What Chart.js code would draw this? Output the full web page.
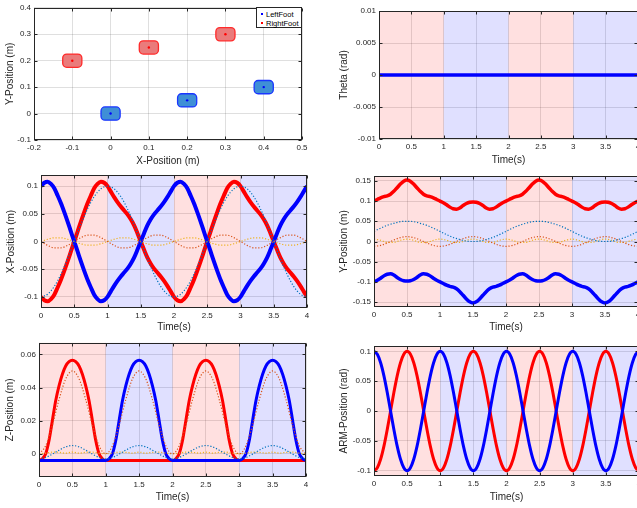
<!DOCTYPE html>
<html>
<head>
<meta charset="utf-8">
<script src="https://cdn.jsdelivr.net/npm/chart.js@4.4.1/dist/chart.umd.min.js"></script>
<style>
  html, body { margin: 0; padding: 0; background: #fff; overflow: hidden; }
  #page { position: relative; width: 637px; height: 508px; overflow: hidden; }
  canvas { position: absolute; }
  #legend { position: absolute; left: 256px; top: 7px; width: 44px; height: 19px; border: 1px solid #262626;
            background: #fff; font-family: 'Liberation Sans', Arial, sans-serif; font-size: 7.5px; color: #000; }
  #legend .row { position: absolute; left: 0; height: 9px; line-height: 9px; white-space: nowrap; }
  #legend .dot { position: absolute; left: 4px; top: 3px; width: 2px; height: 2px; }
  #legend .txt { position: absolute; left: 9px; top: 0; }
</style>
</head>
<body>
<div id="page">
  <canvas id="cFeet"  width="312" height="170" style="left:0px;top:0px"></canvas>
  <canvas id="cTheta" width="332" height="169" style="left:320px;top:0px"></canvas>
  <canvas id="cX"     width="320" height="173" style="left:0px;top:165px"></canvas>
  <canvas id="cY"     width="332" height="172" style="left:320px;top:165px"></canvas>
  <canvas id="cZ"     width="320" height="172" style="left:0px;top:335px"></canvas>
  <canvas id="cArm"   width="332" height="171" style="left:320px;top:335px"></canvas>
  <div id="legend"></div>
</div>
<script>
// ---- data ----
// footstep centres
const leftStepX  = [0, 0.2, 0.4];
const leftStepY  = [0, 0.05, 0.1];
const rightStepX = [-0.1, 0.1, 0.3];
const rightStepY = [0.2, 0.25, 0.3];
const footNames  = ['LeftFoot', 'RightFoot'];

// support phases (shaded bands)
const phaseStart = [0, 1, 2, 3];
const phaseEnd   = [1, 2, 3, 4];
const phaseFoot  = ['Right', 'Left', 'Right', 'Left'];

// time bases
const tFine = [0,0.05,0.1,0.15,0.2,0.25,0.3,0.35,0.4,0.45,0.5,0.55,0.6,0.65,0.7,0.75,0.8,0.85,0.9,0.95,
  1,1.05,1.1,1.15,1.2,1.25,1.3,1.35,1.4,1.45,1.5,1.55,1.6,1.65,1.7,1.75,1.8,1.85,1.9,1.95,
  2,2.05,2.1,2.15,2.2,2.25,2.3,2.35,2.4,2.45,2.5,2.55,2.6,2.65,2.7,2.75,2.8,2.85,2.9,2.95,
  3,3.05,3.1,3.15,3.2,3.25,3.3,3.35,3.4,3.45,3.5,3.55,3.6,3.65,3.7,3.75,3.8,3.85,3.9,3.95,4];
const tCoarse = [0,0.1,0.2,0.3,0.4,0.5,0.6,0.7,0.8,0.9,1,1.1,1.2,1.3,1.4,1.5,1.6,1.7,1.8,1.9,
  2,2.1,2.2,2.3,2.4,2.5,2.6,2.7,2.8,2.9,3,3.1,3.2,3.3,3.4,3.5,3.6,3.7,3.8,3.9,4];

// theta
const thetaBody = [0,0,0,0,0,0,0,0,0,0,0,0,0,0,0,0,0,0,0,0,0,0,0,0,0,0,0,0,0,0,0,0,0,0,0,0,0,0,0,0,0];

// X position
const leftX = [0.100,0.106,0.108,0.104,0.096,0.083,0.069,0.053,0.036,0.018,0.000,-0.018,-0.036,-0.053,-0.069,-0.083,-0.096,-0.104,-0.108,-0.106,-0.100,
  -0.090,-0.080,-0.071,-0.063,-0.056,-0.049,-0.040,-0.029,-0.015,0.000,0.015,0.029,0.040,0.049,0.056,0.063,0.071,0.080,0.090,0.100,
  0.106,0.108,0.104,0.096,0.083,0.069,0.053,0.036,0.018,0.000,-0.018,-0.036,-0.053,-0.069,-0.083,-0.096,-0.104,-0.108,-0.106,-0.100,
  -0.090,-0.080,-0.071,-0.063,-0.056,-0.049,-0.040,-0.029,-0.015,0.000,0.015,0.029,0.040,0.049,0.056,0.063,0.071,0.080,0.090,0.100];
const rightX = [-0.100,-0.106,-0.108,-0.104,-0.096,-0.083,-0.069,-0.053,-0.036,-0.018,0.000,0.018,0.036,0.053,0.069,0.083,0.096,0.104,0.108,0.106,0.100,
  0.090,0.080,0.071,0.063,0.056,0.049,0.040,0.029,0.015,0.000,-0.015,-0.029,-0.040,-0.049,-0.056,-0.063,-0.071,-0.080,-0.090,-0.100,
  -0.106,-0.108,-0.104,-0.096,-0.083,-0.069,-0.053,-0.036,-0.018,0.000,0.018,0.036,0.053,0.069,0.083,0.096,0.104,0.108,0.106,0.100,
  0.090,0.080,0.071,0.063,0.056,0.049,0.040,0.029,0.015,0.000,-0.015,-0.029,-0.040,-0.049,-0.056,-0.063,-0.071,-0.080,-0.090,-0.100];
const refXBlue = [-0.100,-0.095,-0.081,-0.059,-0.031,0.000,0.031,0.059,0.081,0.095,0.100,0.095,0.081,0.059,0.031,0.000,-0.031,-0.059,-0.081,-0.095,
  -0.100,-0.095,-0.081,-0.059,-0.031,0.000,0.031,0.059,0.081,0.095,0.100,0.095,0.081,0.059,0.031,0.000,-0.031,-0.059,-0.081,-0.095,-0.100];
const refXOrange = [0,-0.007,-0.0114,-0.0114,-0.007,0,0.007,0.0114,0.0114,0.007,0,-0.007,-0.0114,-0.0114,-0.007,0,0.007,0.0114,0.0114,0.007,
  0,-0.007,-0.0114,-0.0114,-0.007,0,0.007,0.0114,0.0114,0.007,0,-0.007,-0.0114,-0.0114,-0.007,0,0.007,0.0114,0.0114,0.007,0];
const refXYellow = [0,0.0041,0.0067,0.0067,0.0041,0,-0.0041,-0.0067,-0.0067,-0.0041,0,0.0041,0.0067,0.0067,0.0041,0,-0.0041,-0.0067,-0.0067,-0.0041,
  0,0.0041,0.0067,0.0067,0.0041,0,-0.0041,-0.0067,-0.0067,-0.0041,0,0.0041,0.0067,0.0067,0.0041,0,-0.0041,-0.0067,-0.0067,-0.0041,0];

// Y position
const rightY = [0.100,0.104,0.108,0.111,0.113,0.117,0.124,0.133,0.142,0.149,0.152,0.149,0.142,0.133,0.124,0.117,0.113,0.111,0.108,0.104,0.100,
  0.096,0.091,0.085,0.081,0.080,0.083,0.089,0.094,0.097,0.098,0.097,0.094,0.089,0.083,0.080,0.081,0.085,0.091,0.096,0.100,
  0.104,0.108,0.111,0.113,0.117,0.124,0.133,0.142,0.149,0.152,0.149,0.142,0.133,0.124,0.117,0.113,0.111,0.108,0.104,0.100,
  0.096,0.091,0.085,0.081,0.080,0.083,0.089,0.094,0.097,0.098,0.097,0.094,0.089,0.083,0.080,0.081,0.085,0.091,0.096,0.100];
const leftY = [-0.100,-0.096,-0.091,-0.085,-0.081,-0.080,-0.083,-0.089,-0.094,-0.097,-0.098,-0.097,-0.094,-0.089,-0.083,-0.080,-0.081,-0.085,-0.091,-0.096,-0.100,
  -0.104,-0.108,-0.111,-0.113,-0.117,-0.124,-0.133,-0.142,-0.149,-0.152,-0.149,-0.142,-0.133,-0.124,-0.117,-0.113,-0.111,-0.108,-0.104,-0.100,
  -0.096,-0.091,-0.085,-0.081,-0.080,-0.083,-0.089,-0.094,-0.097,-0.098,-0.097,-0.094,-0.089,-0.083,-0.080,-0.081,-0.085,-0.091,-0.096,-0.100,
  -0.104,-0.108,-0.111,-0.113,-0.117,-0.124,-0.133,-0.142,-0.149,-0.152,-0.149,-0.142,-0.133,-0.124,-0.117,-0.113,-0.111,-0.108,-0.104,-0.100];
const refYBlue = [0.025,0.033,0.040,0.045,0.049,0.050,0.049,0.045,0.040,0.033,0.025,0.017,0.010,0.005,0.001,0.000,0.001,0.005,0.010,0.017,
  0.025,0.033,0.040,0.045,0.049,0.050,0.049,0.045,0.040,0.033,0.025,0.017,0.010,0.005,0.001,0.000,0.001,0.005,0.010,0.017,0.025];
const refYOrange = [-0.012,-0.0097,-0.0037,0.0037,0.0097,0.012,0.0097,0.0037,-0.0037,-0.0097,-0.012,-0.0097,-0.0037,0.0037,0.0097,0.012,0.0097,0.0037,-0.0037,-0.0097,
  -0.012,-0.0097,-0.0037,0.0037,0.0097,0.012,0.0097,0.0037,-0.0037,-0.0097,-0.012,-0.0097,-0.0037,0.0037,0.0097,0.012,0.0097,0.0037,-0.0037,-0.0097,-0.012];
const refYYellow = [0.006,0.003,-0.002,-0.002,0.003,0.006,0.003,-0.002,-0.002,0.003,0.006,0.003,-0.002,-0.002,0.003,0.006,0.003,-0.002,-0.002,0.003,
  0.006,0.003,-0.002,-0.002,0.003,0.006,0.003,-0.002,-0.002,0.003,0.006,0.003,-0.002,-0.002,0.003,0.006,0.003,-0.002,-0.002,0.003,0.006];

// Z position
const rightZ = [-0.004,-0.003,0.000,0.008,0.020,0.032,0.041,0.048,0.053,0.0556,0.0565,0.0556,0.053,0.048,0.041,0.032,0.020,0.008,0.000,-0.003,-0.004,
  -0.004,-0.004,-0.004,-0.004,-0.004,-0.004,-0.004,-0.004,-0.004,-0.004,-0.004,-0.004,-0.004,-0.004,-0.004,-0.004,-0.004,-0.004,-0.004,-0.004,
  -0.003,0.000,0.008,0.020,0.032,0.041,0.048,0.053,0.0556,0.0565,0.0556,0.053,0.048,0.041,0.032,0.020,0.008,0.000,-0.003,-0.004,
  -0.004,-0.004,-0.004,-0.004,-0.004,-0.004,-0.004,-0.004,-0.004,-0.004,-0.004,-0.004,-0.004,-0.004,-0.004,-0.004,-0.004,-0.004,-0.004,-0.004];
const leftZ = [-0.004,-0.004,-0.004,-0.004,-0.004,-0.004,-0.004,-0.004,-0.004,-0.004,-0.004,-0.004,-0.004,-0.004,-0.004,-0.004,-0.004,-0.004,-0.004,-0.004,-0.004,
  -0.003,0.000,0.008,0.020,0.032,0.041,0.048,0.053,0.0556,0.0565,0.0556,0.053,0.048,0.041,0.032,0.020,0.008,0.000,-0.003,-0.004,
  -0.004,-0.004,-0.004,-0.004,-0.004,-0.004,-0.004,-0.004,-0.004,-0.004,-0.004,-0.004,-0.004,-0.004,-0.004,-0.004,-0.004,-0.004,-0.004,-0.004,
  -0.003,0.000,0.008,0.020,0.032,0.041,0.048,0.053,0.0556,0.0565,0.0556,0.053,0.048,0.041,0.032,0.020,0.008,0.000,-0.003,-0.004];
const refZOrange = [0,0.0048,0.0173,0.0327,0.0452,0.050,0.0452,0.0327,0.0173,0.0048,0,0.0048,0.0173,0.0327,0.0452,0.050,0.0452,0.0327,0.0173,0.0048,
  0,0.0048,0.0173,0.0327,0.0452,0.050,0.0452,0.0327,0.0173,0.0048,0,0.0048,0.0173,0.0327,0.0452,0.050,0.0452,0.0327,0.0173,0.0048,0];
const refZBlue = [-0.003,-0.0022,-0.0002,0.0022,0.0042,0.005,0.0042,0.0022,-0.0002,-0.0022,-0.003,-0.0022,-0.0002,0.0022,0.0042,0.005,0.0042,0.0022,-0.0002,-0.0022,
  -0.003,-0.0022,-0.0002,0.0022,0.0042,0.005,0.0042,0.0022,-0.0002,-0.0022,-0.003,-0.0022,-0.0002,0.0022,0.0042,0.005,0.0042,0.0022,-0.0002,-0.0022,-0.003];
const refZYellow = [0,0.0004,0.001,0.0009,0.0004,0.001,0.0004,0.0009,0.001,0.0004,0,0.0004,0.001,0.0009,0.0004,0.001,0.0004,0.0009,0.001,0.0004,
  0,0.0004,0.001,0.0009,0.0004,0.001,0.0004,0.0009,0.001,0.0004,0,0.0004,0.001,0.0009,0.0004,0.001,0.0004,0.0009,0.001,0.0004,0];

// arm swing
const armLeft = [0.100,0.095,0.081,0.059,0.031,0.000,-0.031,-0.059,-0.081,-0.095,-0.100,-0.095,-0.081,-0.059,-0.031,0.000,0.031,0.059,0.081,0.095,0.100,
  0.095,0.081,0.059,0.031,0.000,-0.031,-0.059,-0.081,-0.095,-0.100,-0.095,-0.081,-0.059,-0.031,0.000,0.031,0.059,0.081,0.095,0.100,
  0.095,0.081,0.059,0.031,0.000,-0.031,-0.059,-0.081,-0.095,-0.100,-0.095,-0.081,-0.059,-0.031,0.000,0.031,0.059,0.081,0.095,0.100,
  0.095,0.081,0.059,0.031,0.000,-0.031,-0.059,-0.081,-0.095,-0.100,-0.095,-0.081,-0.059,-0.031,0.000,0.031,0.059,0.081,0.095,0.100];
const armRight = [-0.100,-0.095,-0.081,-0.059,-0.031,0.000,0.031,0.059,0.081,0.095,0.100,0.095,0.081,0.059,0.031,0.000,-0.031,-0.059,-0.081,-0.095,-0.100,
  -0.095,-0.081,-0.059,-0.031,0.000,0.031,0.059,0.081,0.095,0.100,0.095,0.081,0.059,0.031,0.000,-0.031,-0.059,-0.081,-0.095,-0.100,
  -0.095,-0.081,-0.059,-0.031,0.000,0.031,0.059,0.081,0.095,0.100,0.095,0.081,0.059,0.031,0.000,-0.031,-0.059,-0.081,-0.095,-0.100,
  -0.095,-0.081,-0.059,-0.031,0.000,0.031,0.059,0.081,0.095,0.100,0.095,0.081,0.059,0.031,0.000,-0.031,-0.059,-0.081,-0.095,-0.100];

// tick values
const timeTicks = [0, 0.5, 1, 1.5, 2, 2.5, 3, 3.5, 4];
const feetXTicks = [-0.2, -0.1, 0, 0.1, 0.2, 0.3, 0.4, 0.5];
const feetYTicks = [-0.1, 0, 0.1, 0.2, 0.3, 0.4];
const thetaTicks = [-0.01, -0.005, 0, 0.005, 0.01];
const xPosTicks  = [-0.1, -0.05, 0, 0.05, 0.1];
const yPosTicks  = [-0.15, -0.1, -0.05, 0, 0.05, 0.1, 0.15];
const zPosTicks  = [0, 0.02, 0.04, 0.06];
const armTicks   = [-0.1, -0.05, 0, 0.05, 0.1];

// ---- styles ----
const FONT = "'Liberation Sans', Arial, Helvetica, sans-serif";
const TXT = '#262626';
const GRID = 'rgba(38,38,38,0.15)';
const BLUE = '#0000ff', RED = '#ff0000';
const shade = { Right: 'rgba(255,0,0,0.12)', Left: 'rgba(0,0,255,0.12)' };

function pts(ts, ys) { return ts.map((t, i) => ({ x: t, y: ys[i] })); }

function mainLine(ts, ys, color, w, order) {
  return { data: pts(ts, ys), borderColor: color, borderWidth: w, pointRadius: 0,
           cubicInterpolationMode: 'monotone', order: order };
}
function refLine(ts, ys, color) {
  return { data: pts(ts, ys), borderColor: color, borderWidth: 1.2, borderDash: [1.2, 1.8],
           pointRadius: 0, cubicInterpolationMode: 'monotone', order: 0 };
}

function axis(horiz, min, max, ticks, title, size, titlePad) {
  return {
    type: 'linear', min: min, max: max,
    grid: { color: GRID, lineWidth: 1, drawTicks: false },
    border: { display: false },
    ticks: { font: { family: FONT, size: 8 }, color: TXT, padding: 3, autoSkip: false, maxRotation: 0,
             callback: v => String(v) },
    afterBuildTicks: s => { s.ticks = ticks.map(v => ({ value: v })); },
    afterFit: s => { if (horiz) s.height = size; else s.width = size; },
    title: { display: true, text: title, color: TXT, font: { family: FONT, size: 10 },
             padding: horiz ? { top: 0, bottom: titlePad } : { top: titlePad, bottom: 0 } }
  };
}

const shadePlugin = {
  id: 'phaseShade',
  beforeDatasetsDraw(chart) {
    const { ctx, chartArea: a, scales: { x } } = chart;
    ctx.save();
    phaseStart.forEach((s, i) => {
      const x0 = x.getPixelForValue(s), x1 = x.getPixelForValue(phaseEnd[i]);
      ctx.fillStyle = shade[phaseFoot[i]];
      ctx.fillRect(x0, a.top, x1 - x0, a.bottom - a.top);
    });
    ctx.restore();
  }
};

const framePlugin = {
  id: 'frame',
  afterDatasetsDraw(chart) {
    const { ctx, chartArea: a, scales: { x, y } } = chart;
    ctx.save();
    ctx.strokeStyle = TXT;
    ctx.lineWidth = 1;
    const L = Math.round(a.left) + 0.5, R = Math.round(a.right) - 0.5;
    const T = Math.round(a.top) + 0.5, B = Math.round(a.bottom) - 0.5;
    ctx.strokeRect(L, T, R - L, B - T);
    ctx.beginPath();
    x.ticks.forEach(t => {
      const p = Math.round(x.getPixelForValue(t.value)) + 0.5;
      ctx.moveTo(p, B); ctx.lineTo(p, B - 3);
      ctx.moveTo(p, T); ctx.lineTo(p, T + 3);
    });
    y.ticks.forEach(t => {
      const p = Math.round(y.getPixelForValue(t.value)) + 0.5;
      ctx.moveTo(L, p); ctx.lineTo(L + 3, p);
      ctx.moveTo(R, p); ctx.lineTo(R - 3, p);
    });
    ctx.stroke();
    ctx.restore();
  }
};

// rounded foot outlines around the footstep centres
const FOOT_W = 0.05, FOOT_H = 0.05;
const feetPlugin = {
  id: 'feet',
  beforeDatasetsDraw(chart) {
    const { ctx, scales: { x, y } } = chart;
    function foot(cx, cy, fill, stroke) {
      const x0 = x.getPixelForValue(cx - FOOT_W / 2), x1 = x.getPixelForValue(cx + FOOT_W / 2);
      const y0 = y.getPixelForValue(cy + FOOT_H / 2), y1 = y.getPixelForValue(cy - FOOT_H / 2);
      ctx.beginPath();
      ctx.roundRect(x0, y0, x1 - x0, y1 - y0, 4);
      ctx.fillStyle = fill; ctx.fill();
      ctx.lineWidth = 1.3; ctx.strokeStyle = stroke; ctx.stroke();
    }
    ctx.save();
    leftStepX.forEach((v, i) => foot(v, leftStepY[i], '#3f8fd6', '#1a35ff'));
    rightStepX.forEach((v, i) => foot(v, rightStepY[i], '#ea7b7b', '#ff2a2a'));
    ctx.restore();
  }
};

const baseOpts = {
  responsive: false, animation: false, devicePixelRatio: 1,
  plugins: { legend: { display: false }, tooltip: { enabled: false } }
};

function timeChart(id, datasets, yMin, yMax, yTicks, yTitle, box) {
  return new Chart(document.getElementById(id), {
    type: 'line',
    data: { datasets: datasets },
    options: Object.assign({}, baseOpts, {
      layout: { padding: { left: 0, top: box.top, right: box.right, bottom: 0 } },
      scales: {
        x: axis(true, 0, 4, timeTicks, 'Time(s)', 30, box.xtp),
        y: axis(false, yMin, yMax, yTicks, yTitle, box.yw, box.ytp)
      }
    }),
    plugins: [shadePlugin, framePlugin]
  });
}

// footsteps
new Chart(document.getElementById('cFeet'), {
  type: 'scatter',
  data: { datasets: [
    { data: pts(leftStepX, leftStepY), backgroundColor: BLUE, borderColor: BLUE, pointRadius: 1.2, borderWidth: 0 },
    { data: pts(rightStepX, rightStepY), backgroundColor: RED, borderColor: RED, pointRadius: 1.2, borderWidth: 0 }
  ]},
  options: Object.assign({}, baseOpts, {
    layout: { padding: { left: 0, top: 6, right: 10, bottom: 0 } },
    scales: {
      x: axis(true, -0.2, 0.5, feetXTicks, 'X-Position (m)', 30, 2.3),
      y: axis(false, -0.1, 0.4, feetYTicks, 'Y-Position (m)', 34, 4)
    }
  }),
  plugins: [feetPlugin, framePlugin]
});

timeChart('cTheta', [mainLine(tCoarse, thetaBody, BLUE, 3.5, 1)],
  -0.01, 0.01, thetaTicks, 'Theta (rad)', { top: 11, right: 14, yw: 59, ytp: 18.7, xtp: 3 });

timeChart('cX', [
    refLine(tCoarse, refXBlue, '#0072BD'), refLine(tCoarse, refXOrange, '#D95319'), refLine(tCoarse, refXYellow, '#EDB120'),
    mainLine(tFine, leftX, BLUE, 4, 1), mainLine(tFine, rightX, RED, 4, 2)],
  -0.12, 0.12, xPosTicks, 'X-Position (m)', { top: 10, right: 13, yw: 41, ytp: 5.7, xtp: 5 });

timeChart('cY', [
    refLine(tCoarse, refYBlue, '#0072BD'), refLine(tCoarse, refYOrange, '#D95319'), refLine(tCoarse, refYYellow, '#EDB120'),
    mainLine(tFine, leftY, BLUE, 3.5, 1), mainLine(tFine, rightY, RED, 3.5, 2)],
  -0.162, 0.162, yPosTicks, 'Y-Position (m)', { top: 11, right: 14, yw: 54, ytp: 18, xtp: 4 });

timeChart('cZ', [
    refLine(tCoarse, refZBlue, '#0072BD'), refLine(tCoarse, refZOrange, '#D95319'), refLine(tCoarse, refZYellow, '#EDB120'),
    mainLine(tFine, leftZ, BLUE, 3, 1), mainLine(tFine, rightZ, RED, 3, 2)],
  -0.014, 0.067, zPosTicks, 'Z-Position (m)', { top: 7, right: 14, yw: 39, ytp: 4, xtp: 3.7 });

timeChart('cArm', [
    mainLine(tFine, armLeft, BLUE, 3, 1), mainLine(tFine, armRight, RED, 3, 2)],
  -0.109, 0.109, armTicks, 'ARM-Position (rad)', { top: 11, right: 13, yw: 54, ytp: 18, xtp: 2.7 });

// legend of the footstep plot
const legendColors = [BLUE, RED];
const legendTops = [2, 11];
const leg = document.getElementById('legend');
footNames.forEach((name, i) => {
  const row = document.createElement('div');
  row.className = 'row';
  row.style.top = legendTops[i] + 'px';
  row.innerHTML = '<span class="dot" style="background:' + legendColors[i] + '"></span><span class="txt">' + name + '</span>';
  leg.appendChild(row);
});
</script>
</body>
</html>
